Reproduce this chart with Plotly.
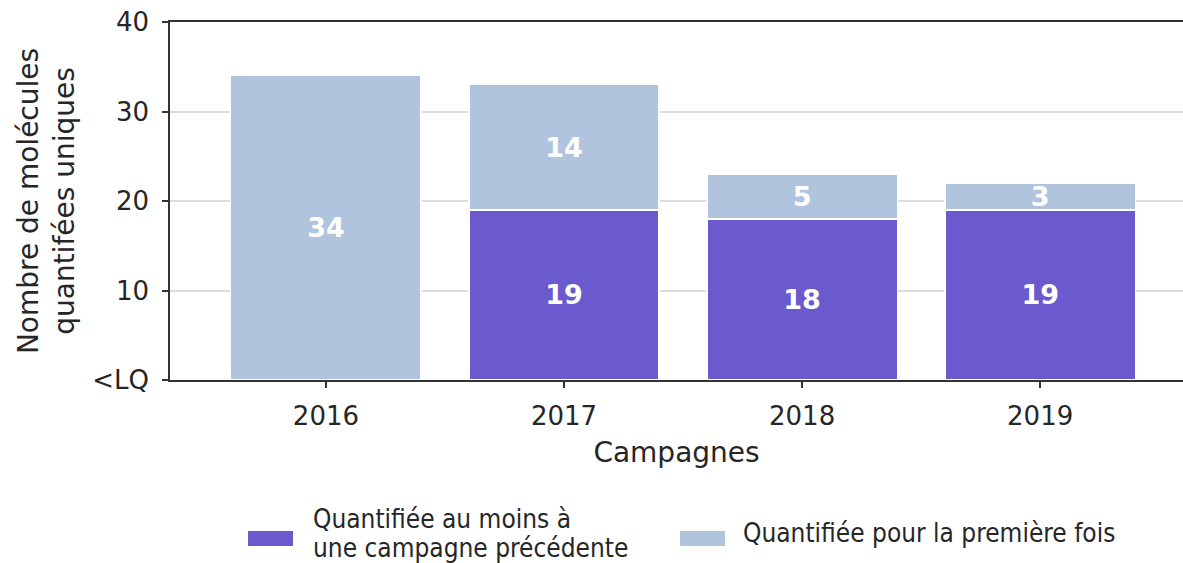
import plotly.graph_objects as go

campagnes = ["2016", "2017", "2018", "2019"]
precedente = [0, 19, 18, 19]
premiere = [34, 14, 5, 3]
y_ticks = [0, 10, 20, 30, 40]
y_tick_labels = ["<LQ", "10", "20", "30", "40"]

serie1_nom = "Quantifiée au moins à<br>une campagne précédente"
serie2_nom = "Quantifiée pour la première fois"

c1 = "#6A5ACD"
c2 = "#B0C4DE"
font_main = "DejaVu Sans, Verdana, sans-serif"
font_leg = "DejaVu Sans Condensed, DejaVu Sans, sans-serif"
txt = "#262626"

W, H = 1183, 563
L, R, T, B = 170, 0, 22, 183


def px2paper_x(px):
    return (px - L) / (W - L - R)


def px2paper_y(py):
    return (H - B - py) / (H - B - T)


def labels(vals):
    return [str(v) if v > 0 else "" for v in vals]

fig = go.Figure()
for vals, name, col in [(precedente, serie1_nom, c1), (premiere, serie2_nom, c2)]:
    fig.add_trace(go.Bar(
        x=campagnes, y=vals, name=name,
        marker=dict(color=col, line=dict(color="white", width=1.5)),
        text=labels(vals), textposition="inside", insidetextanchor="middle",
        textfont=dict(color="white", size=27, family=font_main, weight="bold"),
        constraintext="none", textangle=0, showlegend=False,
    ))

# custom legend (wide rectangles like the reference)
legend_items = [(serie1_nom, c1, 248, 313), (serie2_nom, c2, 680, 743)]
for name, col, sx, tx in legend_items:
    fig.add_shape(type="rect", xref="paper", yref="paper",
                  x0=px2paper_x(sx), x1=px2paper_x(sx + 45),
                  y0=px2paper_y(546), y1=px2paper_y(531),
                  fillcolor=col, line=dict(width=0), layer="above")
    lines = name.split("<br>")
    n = len(lines)
    for i, line in enumerate(lines):
        cy = 533 + (i - (n - 1) / 2) * 29
        fig.add_annotation(xref="paper", yref="paper", x=px2paper_x(tx), y=px2paper_y(cy),
                           xanchor="left", yanchor="middle", align="left", showarrow=False,
                           borderpad=0, borderwidth=0,
                           text=line, font=dict(family=font_leg, size=26, color=txt))

fig.update_layout(
    barmode="stack",
    bargap=0.2,
    width=W, height=H,
    margin=dict(l=L, r=R, t=T, b=B, pad=0),
    plot_bgcolor="white", paper_bgcolor="white",
    font=dict(family=font_main, size=26, color=txt),
    showlegend=False,
    xaxis=dict(
        range=[-0.655, 3.6], automargin=False,
        showline=True, linecolor="#333333", linewidth=1.5, mirror=True,
        ticks="outside", ticklen=6, tickcolor="#333333", tickwidth=1.5,
        ticklabelstandoff=6,
        showgrid=False,
        title=dict(text="Campagnes", font=dict(size=28, color=txt), standoff=12),
        tickfont=dict(size=26, color=txt),
    ),
    yaxis=dict(
        range=[0, 40], automargin=False,
        tickvals=y_ticks, ticktext=y_tick_labels,
        showline=True, linecolor="#333333", linewidth=1.5,
        ticks="outside", ticklen=6, tickcolor="#333333", tickwidth=1.5,
        ticklabelstandoff=8,
        showgrid=True, gridcolor="#dddddd", gridwidth=2,
        zeroline=False,
        title=dict(text="Nombre de molécules<br>quantifées uniques", font=dict(size=28, color=txt), standoff=9),
        tickfont=dict(size=26, color=txt),
    ),
)

fig.write_html("out.html", config={"displayModeBar": False},
               post_script="document.body.style.margin='0';document.body.style.overflow='hidden';")
